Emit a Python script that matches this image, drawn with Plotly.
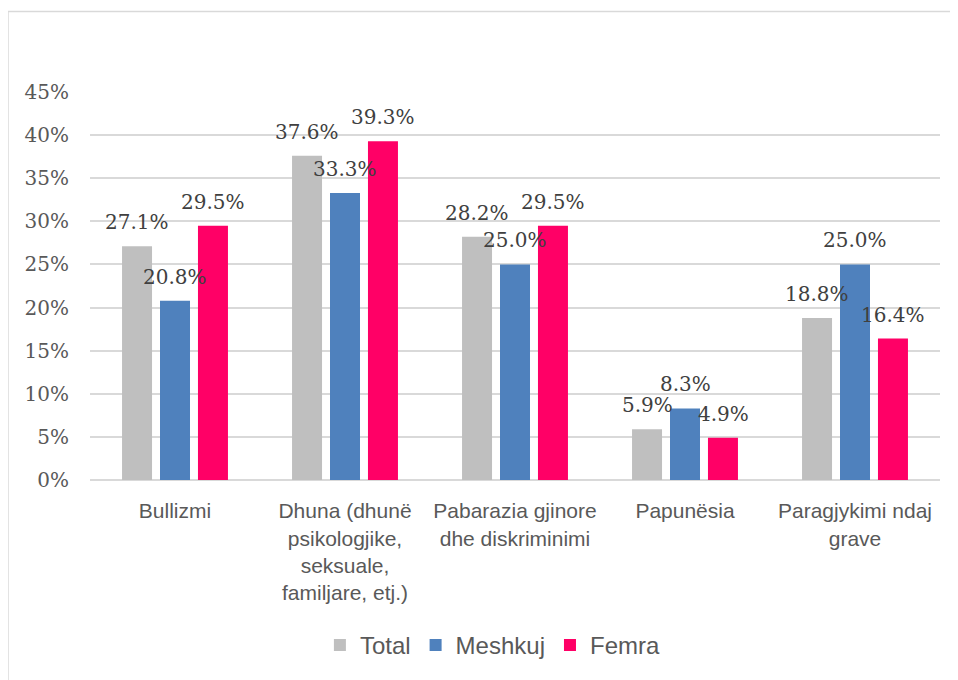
import plotly.graph_objects as go

categories = [
    "Bullizmi",
    "Dhuna (dhunë<br>psikologjike,<br>seksuale,<br>familjare, etj.)",
    "Pabarazia gjinore<br>dhe diskriminimi",
    "Papunësia",
    "Paragjykimi ndaj<br>grave",
]
series_names = ["Total", "Meshkuj", "Femra"]
total = [0.271, 0.376, 0.282, 0.059, 0.188]
meshkuj = [0.208, 0.333, 0.250, 0.083, 0.250]
femra = [0.295, 0.393, 0.295, 0.049, 0.164]
tick_vals = [0, 0.05, 0.10, 0.15, 0.20, 0.25, 0.30, 0.35, 0.40, 0.45]

colors = ["#BFBFBF", "#4F81BD", "#FF0066"]
values = [total, meshkuj, femra]

fig = go.Figure()
annotations = []

for k, (name, vals, col) in enumerate(zip(series_names, values, colors)):
    fig.add_trace(
        go.Bar(
            x=categories,
            y=vals,
            name=name,
            marker=dict(color=col, line=dict(width=0)),
            hoverinfo="skip",
        )
    )
    # data labels, centred over each bar of the group
    for cat, v in zip(categories, vals):
        annotations.append(
            dict(
                x=cat,
                y=v,
                xref="x",
                yref="y",
                xshift=(k - 1) * 38,
                yshift=24,
                text=f"{v * 100:.1f}%",
                showarrow=False,
                xanchor="center",
                yanchor="middle",
                font=dict(family="DejaVu Serif", size=20, color="#404040"),
            )
        )

# outer chart border
shapes = [
    dict(
        type="rect",
        xref="paper",
        yref="paper",
        x0=-0.0965,
        x1=1.03,
        y0=-0.53,
        y1=1.2077,
        line=dict(color="#D9D9D9", width=1.5),
        layer="below",
    )
]

fig.update_layout(
    barmode="group",
    bargap=0.33,
    bargroupgap=0.21,
    width=950,
    height=672,
    margin=dict(l=82, r=18, t=84, b=198),
    plot_bgcolor="white",
    paper_bgcolor="white",
    showlegend=True,
    legend=dict(
        orientation="h",
        x=0.474,
        y=-0.426,
        xanchor="center",
        yanchor="middle",
        font=dict(family="Liberation Sans", size=24, color="#595959"),
        itemwidth=30,
    ),
    xaxis=dict(
        showgrid=False,
        zeroline=False,
        showline=False,
        ticks="outside",
        ticklen=12,
        tickcolor="rgba(0,0,0,0)",
        tickfont=dict(family="Liberation Sans", size=21, color="#595959"),
        tickangle=0,
    ),
    yaxis=dict(
        range=[0, 0.45],
        tickvals=tick_vals,
        tickformat=".0%",
        showgrid=True,
        gridcolor="#D9D9D9",
        gridwidth=1.5,
        zeroline=True,
        zerolinecolor="#D9D9D9",
        zerolinewidth=1.5,
        ticks="outside",
        ticklen=16,
        tickcolor="rgba(0,0,0,0)",
        tickfont=dict(family="DejaVu Serif", size=20, color="#595959"),
    ),
    annotations=annotations,
    shapes=shapes,
)

fig.write_html("out.html")
